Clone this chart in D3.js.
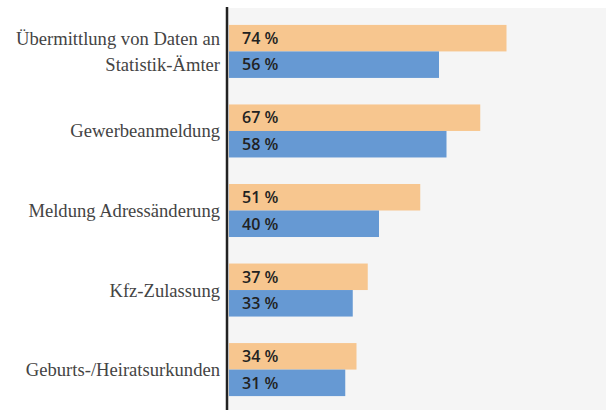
<!DOCTYPE html>
<html>
<head>
<meta charset="utf-8">
<script src="https://cdn.jsdelivr.net/npm/d3@7"></script>
<style>
  body { margin: 0; background: white; }
</style>
</head>
<body>
<div id="chart"></div>
<script>
// categories, top to bottom
const categories = [
  "Übermittlung von Daten an|Statistik-Ämter",
  "Gewerbeanmeldung",
  "Meldung Adressänderung",
  "Kfz-Zulassung",
  "Geburts-/Heiratsurkunden"
];
// orange (upper) and blue (lower) bar values in percent
const orangeValues = [74, 67, 51, 37, 34];
const blueValues = [56, 58, 40, 33, 31];
const seriesKeys = ["orange", "blue"];
const seriesColors = ["#f7c68f", "#6699d3"];

const W = 611, H = 410;
const plotLeft = 228, plotRight = 606, plotTop = 8, plotBottom = 410;

const rows = categories.map((c, i) => ({ category: c, orange: orangeValues[i], blue: blueValues[i] }));

const svg = d3.select('#chart')
  .append('svg')
  .attr('width', W)
  .attr('height', H);

// plot background
svg.append('rect')
  .attr('x', plotLeft)
  .attr('y', plotTop)
  .attr('width', plotRight - plotLeft)
  .attr('height', plotBottom - plotTop)
  .attr('fill', '#f5f5f5');

const x = d3.scaleLinear()
  .domain([0, 100])
  .range([plotLeft + 1, 604]);

const y = d3.scaleBand()
  .domain(categories)
  .range([9, 412])
  .paddingInner(1 / 3)
  .paddingOuter(0.2);

const y1 = d3.scaleBand()
  .domain(seriesKeys)
  .range([0, y.bandwidth()]);

const groups = svg.selectAll('.group')
  .data(rows)
  .enter()
  .append('g')
  .attr('class', 'group')
  .attr('transform', d => `translate(0,${y(d.category)})`);

groups.selectAll('rect')
  .data(d => seriesKeys.map((k, i) => ({ key: k, value: d[k], color: seriesColors[i] })))
  .enter()
  .append('rect')
  .attr('x', x(0))
  .attr('y', d => y1(d.key))
  .attr('width', d => x(d.value) - x(0))
  .attr('height', y1.bandwidth())
  .attr('fill', d => d.color);

groups.selectAll('.val')
  .data(d => seriesKeys.map(k => ({ key: k, value: d[k] })))
  .enter()
  .append('text')
  .attr('class', 'val')
  .attr('x', x(0) + 13)
  .attr('y', d => y1(d.key) + y1.bandwidth() / 2)
  .attr('dy', '0.36em')
  .style('font-family', '"Open Sans", sans-serif')
  .style('font-size', '16px')
  .style('font-weight', 600)
  .style('fill', '#222')
  .text(d => d.value + ' %');

// category labels
const labels = svg.selectAll('.cat')
  .data(categories)
  .enter()
  .append('text')
  .attr('class', 'cat')
  .attr('text-anchor', 'end')
  .style('font-family', '"Liberation Serif", serif')
  .style('font-size', '18.6px')
  .style('fill', '#444');

labels.each(function (d) {
  const lines = d.split('|');
  const cy = y(d) + y.bandwidth() / 2;
  const lineH = 26;
  d3.select(this).selectAll('tspan')
    .data(lines)
    .enter()
    .append('tspan')
    .attr('x', 220)
    .attr('y', (l, i) => cy + (i - (lines.length - 1) / 2) * lineH)
    .attr('dy', '0.35em')
    .text(l => l);
});

// vertical axis line
svg.append('line')
  .attr('x1', 227)
  .attr('x2', 227)
  .attr('y1', 7)
  .attr('y2', H)
  .attr('stroke', '#222')
  .attr('stroke-width', 2.5);
</script>
</body>
</html>
